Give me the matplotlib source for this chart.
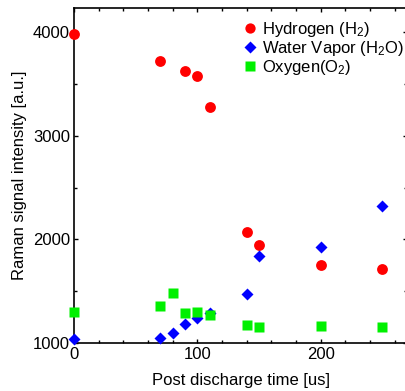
import matplotlib
matplotlib.use("Agg")
import matplotlib.pyplot as plt
from matplotlib.ticker import MultipleLocator

plt.rcParams['font.family'] = ['Liberation Sans', 'DejaVu Sans']
plt.rcParams['mathtext.default'] = 'regular'

# tempo pos descarga [us]
tempo_h2 = [0, 70, 90, 100, 110, 140, 150, 200, 250]
hidrogenio = [3985, 3725, 3630, 3580, 3275, 2070, 1945, 1755, 1715]

tempo_h2o = [0, 70, 80, 90, 100, 110, 140, 150, 200, 250]
vapor = [1040, 1050, 1100, 1180, 1245, 1290, 1478, 1840, 1925, 2320]

tempo_o2 = [0, 70, 80, 90, 100, 110, 140, 150, 200, 250]
oxigenio = [1300, 1362, 1485, 1290, 1300, 1275, 1175, 1158, 1165, 1155]

fig = plt.figure(figsize=(4.05, 3.91), dpi=100)
ax = fig.add_axes([74/405, 1 - 343/391, 1.005 - 74/405, (343 - 8)/391])

ax.plot(tempo_h2, hidrogenio, 'o', color='#ff0000', ms=7.8, mec='none',
        clip_on=False, label='Hydrogen (H$_2$)', zorder=3)
ax.plot(tempo_h2o, vapor, 'D', color='#0000ff', ms=6.6, mec='none',
        clip_on=False, label='Water Vapor (H$_2$O)', zorder=3)
ax.plot(tempo_o2, oxigenio, 's', color='#00f000', ms=7.4, mec='none',
        clip_on=False, label='Oxygen(O$_2$)', zorder=4)

ax.set_xlim(0, 270)
ax.set_ylim(1000, 4235)
ax.xaxis.set_major_locator(MultipleLocator(100))
ax.xaxis.set_minor_locator(MultipleLocator(20))
ax.yaxis.set_major_locator(MultipleLocator(1000))
ax.yaxis.set_minor_locator(MultipleLocator(500))
ax.tick_params(which='both', direction='in', top=True, right=True,
               labelsize=12, width=1)
ax.tick_params(which='major', length=3, pad=3)
ax.tick_params(which='minor', length=2)
for s in ax.spines.values():
    s.set_linewidth(1.2)

ax.set_xlabel('Post discharge time [us]', fontsize=12, labelpad=8)
ax.set_ylabel('Raman signal intensity [a.u.]', fontsize=12, labelpad=4)

ax.legend(loc='upper right', bbox_to_anchor=(1.026, 0.999), frameon=False,
          fontsize=12, handletextpad=0.1, labelspacing=0.0,
          borderaxespad=0.3, handlelength=1.2, markerscale=0.95)

fig.savefig('out.png', dpi=100)
